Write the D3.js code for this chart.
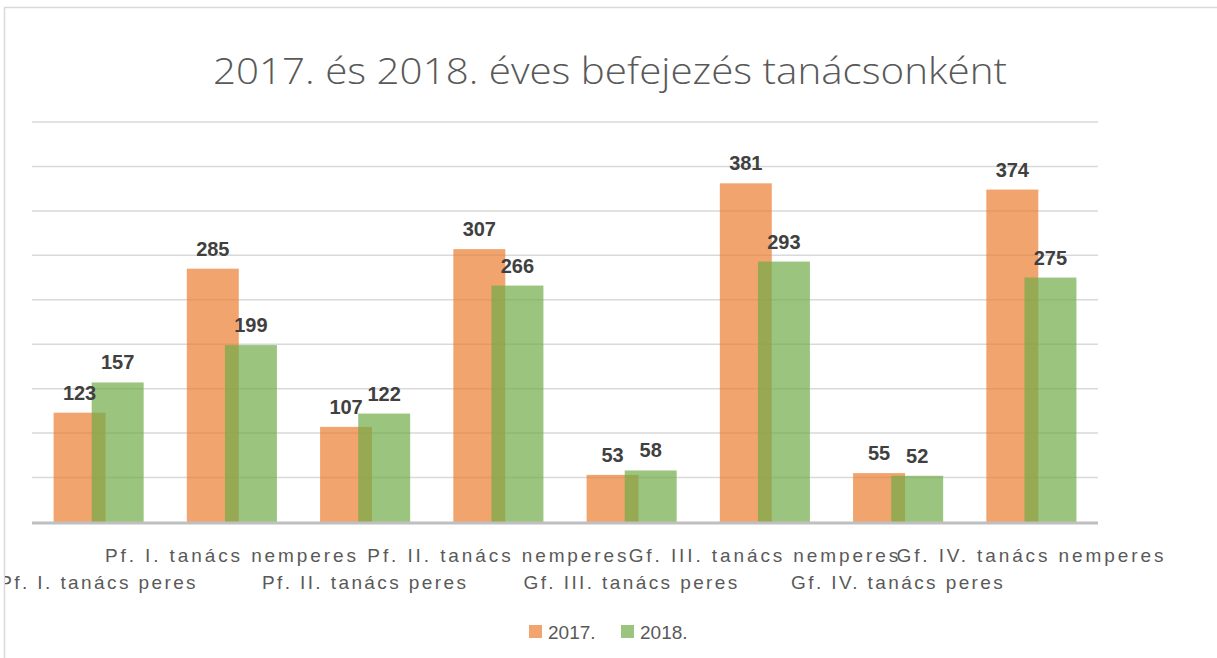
<!DOCTYPE html>
<html>
<head>
<meta charset="utf-8">
<script src="https://cdn.jsdelivr.net/npm/d3@7/dist/d3.min.js"></script>
<style>
  html, body { margin: 0; padding: 0; background: #fff; }
  svg { display: block; }
</style>
</head>
<body>
<svg id="chart" width="1217" height="658"></svg>
<script>
const categories = [
  "Pf. I. tanács peres",
  "Pf. I. tanács nemperes",
  "Pf. II. tanács peres",
  "Pf. II. tanács nemperes",
  "Gf. III. tanács peres",
  "Gf. III. tanács nemperes",
  "Gf. IV. tanács peres",
  "Gf. IV. tanács nemperes"
];
const seriesNames = ["2017.", "2018."];
const values2017 = [123, 285, 107, 307, 53, 381, 55, 374];
const values2018 = [157, 199, 122, 266, 58, 293, 52, 275];
const yTickValues = [0, 50, 100, 150, 200, 250, 300, 350, 400, 450];
const titleText = "2017. és 2018. éves befejezés tanácsonként";

const colors = ["#ED7D31", "#70AD47"];

const svg = d3.select("#chart");

svg.append("defs").append("clipPath").attr("id", "chartClip")
  .append("rect").attr("x", 5).attr("y", 8).attr("width", 1300).attr("height", 700);

// chart border
svg.append("rect")
  .attr("x", 4.5).attr("y", 7.5)
  .attr("width", 1300).attr("height", 700)
  .attr("fill", "none").attr("stroke", "#D9D9D9").attr("stroke-width", 1.5);

const root = svg.append("g").attr("clip-path", "url(#chartClip)");

const plotLeft = 32, plotRight = 1098, plotTop = 122, plotBottom = 522;

const x = d3.scaleBand().domain(categories).range([plotLeft, plotRight]).padding(0);
const y = d3.scaleLinear().domain([0, 450]).range([plotBottom, plotTop]);

// title
root.append("text")
  .attr("x", 610).attr("y", 84)
  .attr("text-anchor", "middle")
  .attr("font-family", "'Open Sans', 'Liberation Sans', sans-serif")
  .attr("font-weight", 300)
  .attr("font-size", 37)
  .attr("fill", "#595959")
  .attr("textLength", 794)
  .attr("lengthAdjust", "spacingAndGlyphs")
  .text(titleText);

// gridlines
root.append("g").selectAll("line")
  .data(yTickValues.filter(v => v > 0))
  .join("line")
  .attr("x1", plotLeft).attr("x2", plotRight)
  .attr("y1", d => y(d)).attr("y2", d => y(d))
  .attr("stroke", "#D9D9D9").attr("stroke-width", 1.5);

const bw = x.bandwidth();
const barW = bw * 0.39;
const half = bw * 0.338;

const data = categories.map((c, i) => ({ c, v: [values2017[i], values2018[i]] }));

const barX = (d, s) => {
  const cx = x(d.c) + bw / 2;
  return s === 0 ? cx - half : cx + half - barW;
};

// bars
[0, 1].forEach(s => {
  root.append("g").selectAll("rect")
    .data(data)
    .join("rect")
    .attr("x", d => barX(d, s))
    .attr("y", d => y(d.v[s]))
    .attr("width", barW)
    .attr("height", d => y(0) - y(d.v[s]))
    .attr("fill", colors[s])
    .attr("fill-opacity", 0.7);
});

// baseline axis
root.append("line")
  .attr("x1", plotLeft).attr("x2", plotRight)
  .attr("y1", y(0) + 1).attr("y2", y(0) + 1)
  .attr("stroke", "#BFBFBF").attr("stroke-width", 3);

// value labels
[0, 1].forEach(s => {
  root.append("g").selectAll("text")
    .data(data)
    .join("text")
    .attr("x", d => barX(d, s) + barW / 2)
    .attr("y", d => y(d.v[s]) - 13)
    .attr("text-anchor", "middle")
    .attr("font-family", "'Liberation Sans', Arial, sans-serif")
    .attr("font-weight", "bold")
    .attr("font-size", 20)
    .attr("fill", "#404040")
    .text(d => d.v[s]);
});

// category labels (staggered)
root.append("g").selectAll("text")
  .data(categories)
  .join("text")
  .attr("x", d => x(d) + bw / 2)
  .attr("y", (d, i) => i % 2 === 1 ? 562 : 589)
  .attr("text-anchor", "middle")
  .attr("font-family", "'Liberation Sans', Arial, sans-serif")
  .attr("font-size", 19)
  .attr("letter-spacing", (d, i) => i % 2 === 1 ? 2.9 : 2.4)
  .attr("fill", "#595959")
  .text(d => d);

// legend
const legendItems = [
  { name: seriesNames[0], color: colors[0], x: 529 },
  { name: seriesNames[1], color: colors[1], x: 621 }
];
const lg = root.append("g").selectAll("g").data(legendItems).join("g");
lg.append("rect")
  .attr("x", d => d.x).attr("y", 625)
  .attr("width", 13).attr("height", 13)
  .attr("fill", d => d.color).attr("fill-opacity", 0.7);
lg.append("text")
  .attr("x", d => d.x + 19).attr("y", 639)
  .attr("font-family", "'Liberation Sans', Arial, sans-serif")
  .attr("font-size", 19)
  .attr("fill", "#595959")
  .text(d => d.name);
</script>
</body>
</html>
